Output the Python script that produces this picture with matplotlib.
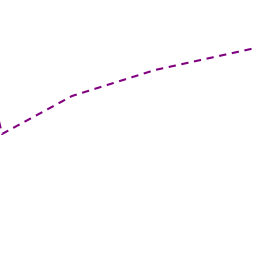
import matplotlib
matplotlib.use("Agg")
import matplotlib.pyplot as plt

x_vals = [-6, 2, 72, 155, 260]
y_vals = [100, 134, 96, 70, 47]

fig = plt.figure(figsize=(2.56, 2.56), dpi=100)
ax = fig.add_axes([0, 0, 1, 1])
ax.plot(x_vals, y_vals, color="#800080", linewidth=1.5, linestyle=(0, (3.5, 2.7)))
ax.set_xlim(0, 256)
ax.set_ylim(256, 0)
ax.axis("off")
fig.savefig("out.png", dpi=100)
